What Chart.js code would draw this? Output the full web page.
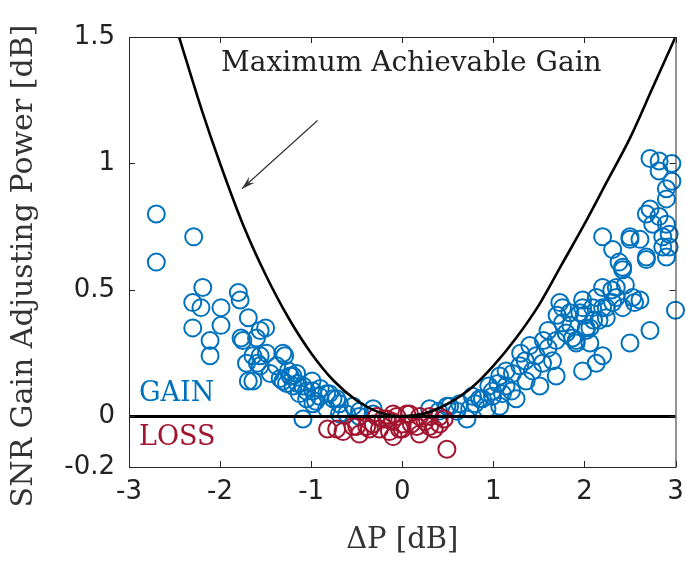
<!DOCTYPE html>
<html>
<head>
<meta charset="utf-8">
<script src="https://cdn.jsdelivr.net/npm/chart.js@4.4.1/dist/chart.umd.min.js"></script>
<style>
  html, body { margin: 0; padding: 0; background: #fff; }
  #wrap { width: 686px; height: 561px; position: relative; }
</style>
</head>
<body>
<div id="wrap"><canvas id="c"></canvas></div>
<script>
// ---- data
const xTicks = [-3, -2, -1, 0, 1, 2, 3];
const yTicks = [-0.2, 0, 0.5, 1, 1.5];

// "Maximum Achievable Gain" curve
const curveX = [-2.45, -2.2, -2.0, -1.75, -1.5, -1.25, -1.0, -0.75, -0.5, -0.25, 0, 0.25, 0.5, 0.75, 1.0, 1.25, 1.5, 1.75, 2.0, 2.25, 2.5, 2.75, 3.0];
const curveY = [1.5, 1.21, 1.0, 0.76, 0.56, 0.39, 0.25, 0.14, 0.063, 0.016, 0, 0.012, 0.05, 0.11, 0.2, 0.31, 0.44, 0.6, 0.76, 0.93, 1.1, 1.3, 1.5];

// GAIN points (blue)
const gainX = [-2.70, -2.29, -2.70, -2.19, -2.30, -2.21, -1.99, -1.80, -1.78, -1.69, -2.30, -1.99, -1.50, -1.77, -2.11, -1.75, -2.11, -1.64, -1.56, -1.49,
  -1.71, -1.59, -1.29, -1.69, -1.34, -1.31, -1.27, -1.20, -1.20, -0.99, -1.13, -1.05, -0.91, -0.83, -0.76, -0.69, -0.98, -0.54, -1.09, -0.83,
  -0.61, -0.47, -0.32, -1.56, -1.60, -1.31, -1.56, -1.64, -1.23, -1.16, -1.09, -0.98, -0.80, -0.72, -0.69, -0.47, -0.32,
  -1.25, -1.15, -1.05, -0.95, -0.90, -1.38, -1.45,
  0.30, 0.49, 0.63, 0.74, 0.71, 0.85, 0.93, 0.99, 1.10, 1.07, 1.14, 0.52, 0.77, 0.88, 0.99, 1.07, 1.14, 1.21, 1.25, 1.29, 1.36,
  1.43, 1.47, 1.51, 1.54, 1.65, 1.69, 1.69, 1.76, 1.76, 1.73, 1.84, 1.87, 1.91, 1.98, 2.02, 2.02, 2.09, 2.13, 1.98, 2.20, 2.20,
  2.20, 2.24, 2.35, 2.35, 2.42, 2.31, 2.50, 2.53, 2.61, 2.72, 2.61, 2.68, 2.86, 2.93, 3.00, 2.20, 2.31, 2.42, 2.50,
  2.72, 2.82, 2.82, 2.96, 2.96, 2.90, 2.90, 2.72, 2.68, 2.82, 2.75, 2.90, 2.93, 2.86, 2.90, 2.68, 2.50, 2.38, 2.42, 2.13,
  2.24, 2.16, 1.98, 1.95, 2.06, 1.91, 2.06,
  1.30, 1.40, 1.55, 1.60, 1.35, 1.20, 1.05, 0.95, 1.80, 1.85, 2.00, 2.10, 2.30, 2.45, 2.55, 1.60, 1.70, 0.60, 0.80, 0.40];
const gainY = [0.80, 0.71, 0.61, 0.51, 0.45, 0.43, 0.43, 0.49, 0.46, 0.39, 0.35, 0.36, 0.35, 0.31, 0.30, 0.30, 0.24, 0.24, 0.24, 0.25,
  0.21, 0.21, 0.24, 0.14, 0.15, 0.14, 0.13, 0.16, 0.12, 0.14, 0.09, 0.10, 0.08, 0.09, 0.07, 0.05, 0.05, 0.04, -0.01, 0.03,
  0.01, 0.02, 0.01, 0.34, 0.31, 0.25, 0.20, 0.14, 0.16, 0.17, 0.12, 0.10, 0.09, 0.07, 0.01, 0.00, 0.03,
  0.18, 0.13, 0.07, 0.06, 0.11, 0.20, 0.17,
  0.03, 0.04, 0.05, 0.03, -0.01, 0.07, 0.03, 0.08, 0.09, 0.04, 0.18, 0.04, 0.08, 0.07, 0.10, 0.16, 0.12, 0.17, 0.07, 0.20, 0.14,
  0.18, 0.24, 0.12, 0.21, 0.22, 0.16, 0.30, 0.37, 0.43, 0.45, 0.41, 0.31, 0.29, 0.43, 0.35, 0.34, 0.43, 0.21, 0.18, 0.24, 0.51,
  0.43, 0.39, 0.47, 0.51, 0.43, 0.45, 0.29, 0.47, 0.46, 0.34, 0.70, 0.62, 0.71, 0.67, 0.42, 0.71, 0.66, 0.59, 0.70,
  1.02, 1.01, 0.97, 1.00, 0.93, 0.90, 0.86, 0.82, 0.80, 0.79, 0.76, 0.76, 0.72, 0.67, 0.63, 0.63, 0.71, 0.61, 0.58, 0.47,
  0.43, 0.38, 0.46, 0.41, 0.35, 0.30, 0.29,
  0.25, 0.28, 0.30, 0.27, 0.22, 0.10, 0.13, 0.12, 0.33, 0.36, 0.40, 0.38, 0.50, 0.52, 0.45, 0.34, 0.40, 0.02, 0.05, 0.02];

// LOSS points (red)
const lossX = [-0.82, -0.72, -0.54, -0.39, -0.32, -0.21, -0.11, -0.25, -0.14, -0.50, -0.47, -0.36, -0.17, -0.06, 0.00, -0.03, -0.28, 0.05,
  -0.10, 0.08, 0.19, 0.30, 0.41, 0.46, 0.00, 0.16, 0.30, 0.41, -0.10, 0.19, 0.49, -0.65, 0.10, 0.25, 0.35];
const lossY = [-0.05, -0.05, -0.04, -0.04, -0.03, -0.01, -0.02, -0.05, -0.06, -0.04, -0.07, -0.05, -0.01, 0.00, -0.03, -0.05, 0.00, 0.01,
  0.01, 0.01, 0.00, 0.00, 0.00, -0.01, -0.05, -0.04, -0.04, -0.03, -0.08, -0.07, -0.13, -0.06, -0.03, -0.02, -0.05];

// annotation anchors (data units)
const arrowFrom = { x: -0.93, y: 1.17 };
const arrowTo = { x: -1.76, y: 0.90 };

const BLUE = '#0072BD';
const RED = '#A2142F';
const AXIS = '#262626';

const pts = (xs, ys) => xs.map((x, i) => ({ x, y: ys[i] }));

// Box around the axes + MATLAB style inward ticks + text annotations
const framePlugin = {
  id: 'frame',
  afterDatasetsDraw(chart) {
    const { ctx, chartArea: a, scales: { x, y } } = chart;
    ctx.save();
    ctx.strokeStyle = AXIS;
    ctx.lineWidth = 1;
    ctx.strokeRect(a.left + 0.5, a.top + 0.5, a.right - a.left, a.bottom - a.top);
    const L = 6;
    ctx.beginPath();
    xTicks.forEach(v => {
      const px = Math.round(x.getPixelForValue(v)) + 0.5;
      ctx.moveTo(px, a.bottom); ctx.lineTo(px, a.bottom - L);
      ctx.moveTo(px, a.top); ctx.lineTo(px, a.top + L);
    });
    yTicks.forEach(v => {
      const py = Math.round(y.getPixelForValue(v)) + 0.5;
      ctx.moveTo(a.left, py); ctx.lineTo(a.left + L, py);
      ctx.moveTo(a.right, py); ctx.lineTo(a.right - L, py);
    });
    ctx.stroke();

    // arrow
    const x0 = x.getPixelForValue(arrowFrom.x), y0 = y.getPixelForValue(arrowFrom.y);
    const x1 = x.getPixelForValue(arrowTo.x), y1 = y.getPixelForValue(arrowTo.y);
    ctx.strokeStyle = '#333';
    ctx.lineWidth = 1.2;
    ctx.beginPath(); ctx.moveTo(x0, y0); ctx.lineTo(x1, y1); ctx.stroke();
    const ang = Math.atan2(y1 - y0, x1 - x0), h = 14;
    ctx.fillStyle = '#333';
    ctx.beginPath();
    ctx.moveTo(x1 - h * Math.cos(ang - 0.3), y1 - h * Math.sin(ang - 0.3));
    ctx.lineTo(x1, y1);
    ctx.lineTo(x1 - h * Math.cos(ang + 0.3), y1 - h * Math.sin(ang + 0.3));
    ctx.lineTo(x1 - 0.6 * h * Math.cos(ang), y1 - 0.6 * h * Math.sin(ang));
    ctx.closePath();
    ctx.fill();

    // texts
    ctx.font = '28px "DejaVu Serif"';
    ctx.textBaseline = 'middle';
    ctx.textAlign = 'center';
    ctx.fillStyle = '#222';
    ctx.fillText('Maximum Achievable Gain', x.getPixelForValue(0.1), y.getPixelForValue(1.395));
    ctx.textAlign = 'left';
    ctx.font = '27px "DejaVu Serif"';
    ctx.fillStyle = BLUE;
    ctx.fillText('GAIN', a.left + 10, y.getPixelForValue(0.09));
    ctx.fillStyle = RED;
    ctx.fillText('LOSS', a.left + 10, y.getPixelForValue(-0.085));

    // y axis title
    ctx.font = '30px "DejaVu Serif"';
    ctx.fillStyle = '#333';
    ctx.textAlign = 'center';
    ctx.translate(24, 266);
    ctx.rotate(-Math.PI / 2);
    ctx.fillText('SNR Gain Adjusting Power [dB]', 0, 0);
    ctx.restore();
  }
};

new Chart(document.getElementById('c'), {
  type: 'scatter',
  data: {
    datasets: [
      { label: 'Maximum Achievable Gain', data: pts(curveX, curveY), showLine: true, borderColor: '#000',
        borderWidth: 2.6, pointRadius: 0, cubicInterpolationMode: 'monotone', order: 0 },
      { label: 'zero', data: pts([-3, 3], [0, 0]), showLine: true, borderColor: '#000',
        borderWidth: 3, pointRadius: 0, order: 0 },
      { label: 'LOSS', data: pts(lossX, lossY), pointStyle: 'circle', pointRadius: 8.5,
        pointBorderWidth: 2, pointBorderColor: RED, pointBackgroundColor: 'rgba(0,0,0,0)', clip: false, order: 1 },
      { label: 'GAIN', data: pts(gainX, gainY), pointStyle: 'circle', pointRadius: 8.5,
        pointBorderWidth: 2, pointBorderColor: BLUE, pointBackgroundColor: 'rgba(0,0,0,0)', clip: false, order: 2 },
    ],
  },
  options: {
    responsive: true, maintainAspectRatio: false, animation: false,
    layout: { padding: { top: 37, right: 10, left: 0, bottom: 0 } },
    plugins: { legend: { display: false }, tooltip: { enabled: false } },
    scales: {
      x: {
        type: 'linear', min: -3, max: 3,
        afterBuildTicks: (s) => { s.ticks = xTicks.map(v => ({ value: v })); },
        afterFit: (s) => { s.height = 94; s.paddingLeft = 0; s.paddingRight = 0; },
        grid: { display: false, drawTicks: false },
        border: { display: false },
        ticks: { color: '#222', font: { family: 'DejaVu Sans', size: 26 }, padding: 10, maxRotation: 0,
                 callback: (v) => String(v) },
        title: { display: true, text: 'ΔP [dB]', color: '#333', font: { family: 'DejaVu Serif', size: 29 },
                 padding: { top: 0, bottom: 3 } },
      },
      y: {
        type: 'linear', min: -0.2, max: 1.5,
        afterBuildTicks: (s) => { s.ticks = yTicks.map(v => ({ value: v })); },
        afterFit: (s) => { s.width = 129; s.paddingTop = 0; s.paddingBottom = 0; },
        grid: { display: false, drawTicks: false },
        border: { display: false },
        ticks: { color: '#222', font: { family: 'DejaVu Sans', size: 26 }, padding: 14,
                 callback: (v) => String(v) },
        title: { display: false },
      },
    },
  },
  plugins: [framePlugin],
});
</script>
</body>
</html>
